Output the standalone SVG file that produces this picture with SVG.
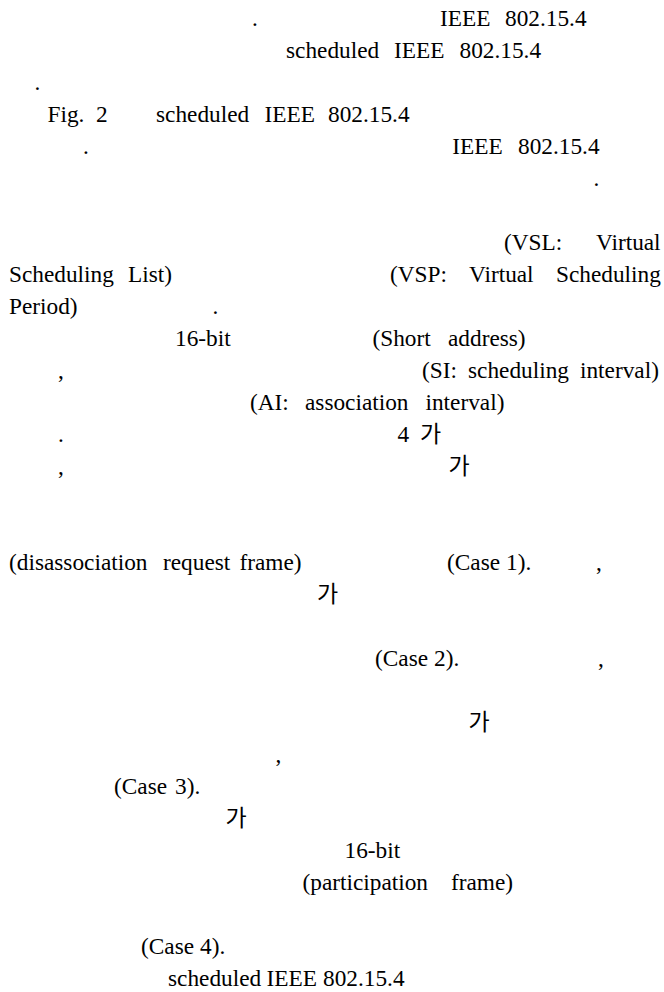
<svg xmlns="http://www.w3.org/2000/svg" width="664" height="992" viewBox="0 0 664 992">
<style>
text{font-family:"Liberation Serif","Times New Roman",serif;font-size:23.3px;fill:#000}
.k{font-family:"Noto Sans CJK KR","Noto Sans",sans-serif;font-size:23px}
</style>
<rect width="664" height="992" fill="#fff"/>
<g id="page">
<text x="252" y="26">.</text>
<text x="440" y="26">IEEE</text><text x="505" y="26">802.15.4</text>

<text x="286" y="58">scheduled</text><text x="394" y="58">IEEE</text><text x="459.5" y="58">802.15.4</text>

<text x="34.5" y="90">.</text>

<text x="47.5" y="122">Fig.</text><text x="96" y="122">2</text><text x="156" y="122">scheduled</text><text x="264.5" y="122">IEEE</text><text x="328" y="122">802.15.4</text>

<text x="83" y="154">.</text>
<text x="452.3" y="154">IEEE</text><text x="518" y="154">802.15.4</text>

<text x="593.5" y="186">.</text>

<text x="504" y="250">(VSL:</text><text x="596" y="250">Virtual</text>

<text x="9" y="282">Scheduling</text><text x="128" y="282">List)</text><text x="390" y="282">(VSP:</text><text x="469" y="282">Virtual</text><text x="556" y="282">Scheduling</text>

<text x="9" y="314">Period)</text><text x="212.5" y="314">.</text>

<text x="175" y="346">16-bit</text><text x="372.5" y="346">(Short</text><text x="448" y="346">address)</text>

<text x="58" y="378">,</text><text x="422" y="378">(SI:</text><text x="468" y="378">scheduling</text><text x="580" y="378">interval)</text>

<text x="250" y="410">(AI:</text><text x="305" y="410">association</text><text x="425.5" y="410">interval)</text>

<text x="58" y="442">.</text><text x="397.5" y="442">4</text><text class="k" x="420" y="442">가</text>

<text x="58" y="474">,</text><text class="k" x="448.5" y="474">가</text>

<text x="9" y="570">(disassociation</text><text x="163" y="570">request</text><text x="239.5" y="570">frame)</text><text x="447" y="570">(Case</text><text x="506" y="570">1).</text><text x="596" y="570">,</text>

<text class="k" x="317" y="602">가</text>

<text x="375" y="666">(Case</text><text x="434" y="666">2).</text><text x="598" y="666">,</text>

<text class="k" x="468.5" y="730">가</text>

<text x="275.5" y="762">,</text>

<text x="114" y="794">(Case</text><text x="175" y="794">3).</text>

<text class="k" x="225.5" y="826">가</text>

<text x="344.5" y="858">16-bit</text>

<text x="302.5" y="890">(participation</text><text x="451" y="890">frame)</text>

<text x="141" y="954">(Case</text><text x="200" y="954">4).</text>

<text x="168" y="986">scheduled</text><text x="266.5" y="986">IEEE</text><text x="323" y="986">802.15.4</text>
</g>
</svg>
